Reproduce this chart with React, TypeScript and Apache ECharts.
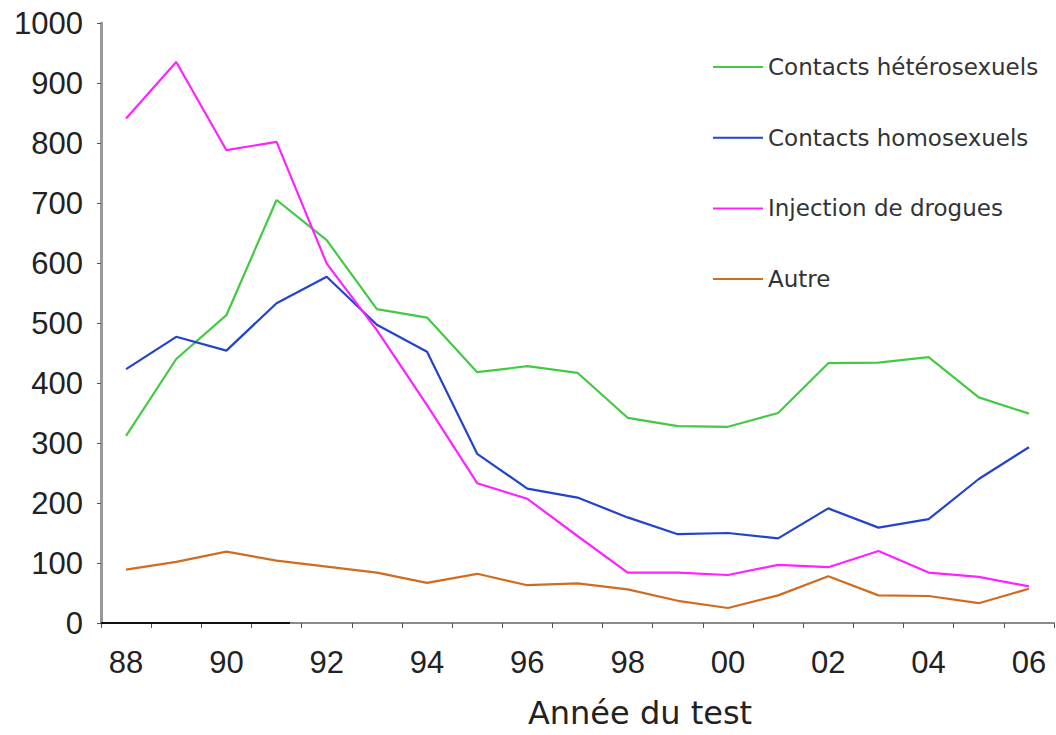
import React, { useEffect, useRef } from "react";
import * as echarts from "echarts";

const categories = ["88", "89", "90", "91", "92", "93", "94", "95", "96", "97", "98", "99", "00", "01", "02", "03", "04", "05", "06"];
const heterosexuels = [312, 440, 513, 705, 638, 523, 509, 418, 428, 417, 342, 328, 327, 350, 433, 434, 443, 376, 349];
const homosexuels = [423, 477, 454, 533, 577, 497, 452, 282, 224, 209, 176, 148, 150, 141, 191, 159, 173, 240, 293];
const drogues = [841, 935, 788, 802, 599, 488, 363, 233, 207, 145, 84, 84, 80, 97, 93, 120, 84, 77, 61];
const autre = [89, 102, 119, 104, 94, 84, 67, 82, 63, 66, 56, 37, 25, 46, 78, 46, 45, 33, 57];
const seriesNames = ["Contacts hétérosexuels", "Contacts homosexuels", "Injection de drogues", "Autre"];
const seriesColors = ["#44c944", "#2244cc", "#ff22ff", "#d06c20"];

export default function App() {
  const ref = useRef<HTMLDivElement>(null);
  useEffect(() => {
    if (!ref.current) return;
    const chart = echarts.init(ref.current, null, { renderer: "svg" });
    const dataSets = [heterosexuels, homosexuels, drogues, autre];
    chart.setOption({
      animation: false,
      backgroundColor: "#ffffff",
      grid: { left: 101, right: 2, top: 23, bottom: 112, containLabel: false, outerBoundsMode: "none" },
      legend: {
        orient: "vertical",
        left: 708,
        top: 50,
        itemWidth: 50,
        itemHeight: 2,
        itemGap: 46.7,
        icon: "rect",
        data: seriesNames,
        textStyle: { fontFamily: "DejaVu Sans", fontSize: 23, color: "#333", lineHeight: 24 },
      },
      xAxis: {
        type: "category",
        data: categories,
        boundaryGap: true,
        name: "Année du test",
        nameLocation: "middle",
        nameGap: 74,
        nameTextStyle: { fontFamily: "DejaVu Sans", fontSize: 32, lineHeight: 32, color: "#222", padding: [0, 0, 0, 125] },
        axisLine: { lineStyle: { color: "#8a8a8a", width: 2 } },
        axisTick: { show: true, interval: 0, length: 5, lineStyle: { color: "#555", width: 1 } },
        axisLabel: { interval: 1, margin: 24, fontFamily: "Liberation Sans", fontSize: 31, color: "#222" },
        splitLine: { show: false },
      },
      yAxis: {
        type: "value",
        min: 0,
        max: 1000,
        interval: 100,
        axisLine: { show: true, lineStyle: { color: "#999", width: 3 } },
        axisTick: { show: true, length: 4, lineStyle: { color: "#555", width: 1 } },
        axisLabel: { margin: 18, fontFamily: "Liberation Sans", fontSize: 31, color: "#222", formatter: (v: number) => String(v) },
        splitLine: { show: false },
      },
      series: seriesNames.map((name, i) => ({
        name,
        type: "line",
        data: dataSets[i],
        symbol: "none",
        showSymbol: false,
        itemStyle: { color: seriesColors[i] },
        lineStyle: { color: seriesColors[i], width: 2.2 },
      })),
    });
    const y0 = chart.convertToPixel({ yAxisIndex: 0 }, 0) as number;
    chart.setOption({
      graphic: [
        { type: "line", shape: { x1: 101, y1: y0, x2: 290, y2: y0 }, style: { stroke: "#111", lineWidth: 2 }, z: 100 },
      ],
    });
    return () => chart.dispose();
  }, []);
  return <div ref={ref} style={{ position: "fixed", left: 0, top: 0, width: 1056, height: 735 }} />;
}
